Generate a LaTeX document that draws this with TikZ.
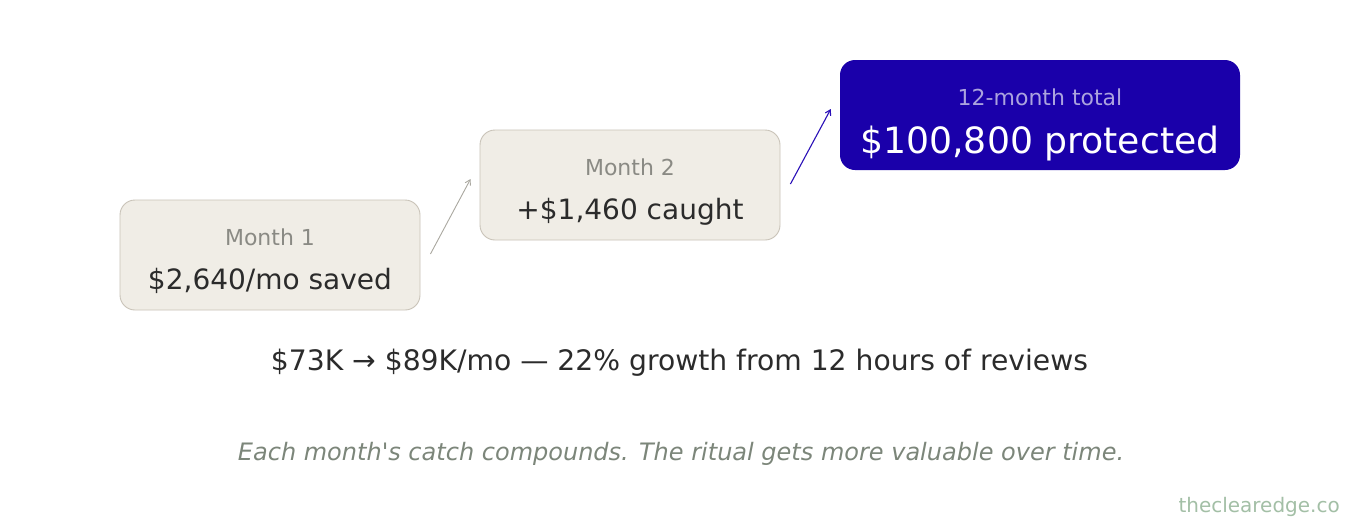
\documentclass[tikz,border=0pt]{standalone}
\usepackage{fontspec}
\setmainfont{DejaVu Sans}[Ligatures=TeXOff]
\usetikzlibrary{arrows.meta,calc}
\definecolor{boxfill}{HTML}{F0EDE6}
\definecolor{boxline}{HTML}{C9C3B8}
\definecolor{labgray}{HTML}{8A8A84}
\definecolor{valdark}{HTML}{2B2B2B}
\definecolor{deepblue}{HTML}{1A00AA}
\definecolor{lablight}{HTML}{ABA3DE}
\definecolor{arrgray}{HTML}{AAA8A0}
\definecolor{arrblue}{HTML}{2A10B8}
\definecolor{italgray}{HTML}{7C867A}
\definecolor{wmark}{HTML}{A3BFA6}
\tikzset{
  card/.style={draw=boxline, line width=0.9pt, fill=boxfill, rounded corners=15pt, minimum width=300pt, minimum height=110pt, inner sep=0pt},
  bigcard/.style={draw=none, fill=deepblue, rounded corners=15pt, minimum width=400pt, minimum height=110pt, inner sep=0pt},
  lab/.style={anchor=base, inner sep=0pt, text=labgray, font=\fontsize{22pt}{24pt}\selectfont},
  val/.style={anchor=base, inner sep=0pt, text=valdark, font=\fontsize{28pt}{30pt}\selectfont},
  grayarrow/.style={draw=arrgray, line width=0.9pt, -{Straight Barb[length=5pt,width=6pt]}},
  bluearrow/.style={draw=arrblue, line width=1.1pt, -{Straight Barb[length=5pt,width=6pt]}}
}
\begin{document}
\begin{tikzpicture}[x=1pt,y=-1pt]
\useasboundingbox (0,0) rectangle (1360,520);
\fill[white] (0,0) rectangle (1360,520);
\node[card] (b1) at (270,255) {};
\node[card] (b2) at (630,185) {};
\node[bigcard] (b3) at (1040,115) {};
\node[lab] (l1) at (270,245) {Month 1};
\node[val] (v1) at (270,289) {\$2,640/mo saved};
\node[lab] (l2) at (630,175) {Month 2};
\node[val] (v2) at (630,219) {+\$1,460 caught};
\node[lab, text=lablight] (l3) at (1040,105) {12-month total};
\node[val, text=white, font=\fontsize{36.2pt}{38pt}\selectfont] (v3) at (1040,153) {\$100,800 protected};
\coordinate (a1s) at ($(b1.east)+(10,-1)$);
\coordinate (a1e) at ($(b2.west)+(-9,-6)$);
\coordinate (a2s) at ($(b2.east)+(10,-1)$);
\coordinate (a2e) at ($(b3.west)+(-9,-6)$);
\draw[grayarrow] (a1s) -- (a1e);
\draw[bluearrow] (a2s) -- (a2e);
\node[anchor=base, inner sep=0pt, text=valdark, font=\fontsize{28.2pt}{30pt}\selectfont] (sum) at (679.5,370) {\$73K → \$89K/mo — 22\% growth from 12 hours of reviews};
\node[anchor=base, inner sep=0pt, text=italgray, font=\fontsize{24pt}{26pt}\selectfont\itshape] (note) at (681,460) {Each month's catch compounds. The ritual gets more valuable over time.};
\node[anchor=base east, inner sep=0pt, text=wmark, font=\fontsize{20pt}{22pt}\selectfont] (wm) at (1340,512) {theclearedge.co};
\end{tikzpicture}
\end{document}
